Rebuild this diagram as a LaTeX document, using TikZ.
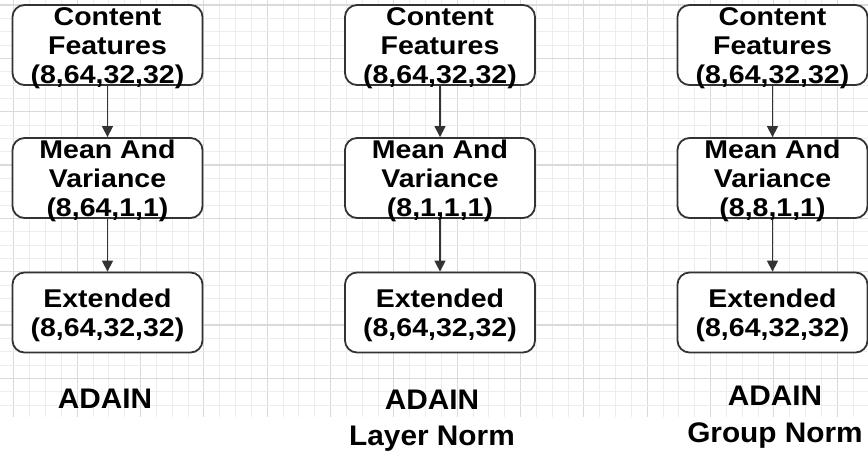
\documentclass[tikz,border=0pt]{standalone}
\usepackage{fontspec}
\usepackage{graphicx}
\setmainfont{Liberation Sans}
\usetikzlibrary{arrows.meta}

\definecolor{edgegray}{HTML}{333333}
\definecolor{gridminor}{HTML}{EDEDED}
\definecolor{gridmajor}{HTML}{DADADA}

% text inside the blocks: bold, slightly condensed vertically
\newcommand{\blocktext}[1]{\scalebox{1}[0.9]{\fontsize{28.5}{32.2}\selectfont\bfseries
  \begin{tabular}{@{}c@{}}#1\end{tabular}}}
% captions under each column
\newcommand{\captiontext}[1]{\scalebox{1}[0.95]{\fontsize{29.8}{38}\selectfont\bfseries
  \begin{tabular}{@{}c@{}}#1\end{tabular}}}

\tikzset{
  block/.style={draw=edgegray, line width=1.8pt, rounded corners=12pt, fill=white,
    minimum width=190pt, minimum height=80pt, inner sep=0pt},
  blocklabel/.style={inner sep=0pt, text=black},
  flow/.style={draw=edgegray, line width=1.4pt, -{Triangle[length=11pt,width=11pt]}},
  caption/.style={inner sep=0pt, text=black},
}

\begin{document}
\begin{tikzpicture}[x=1pt, y=-1pt]
  \useasboundingbox (0,0) rectangle (868,457);
  \fill[white] (0,0) rectangle (868,457);

  % background grid
  \foreach \i in {0,...,55} {
    \pgfmathsetmacro{\gx}{-2.03+15.833*\i}
    \pgfmathtruncatemacro{\m}{mod(\i,4)}
    \ifnum\m=1
      \draw[gridmajor, line width=1.1pt] (\gx,0) -- (\gx,417);
    \else
      \draw[gridminor, line width=0.8pt] (\gx,0) -- (\gx,417);
    \fi
  }
  \foreach \j in {1,...,31} {
    \pgfmathsetmacro{\gy}{-8.33+13.333*\j}
    \pgfmathtruncatemacro{\m}{mod(\j,4)}
    \ifnum\m=1
      \draw[gridmajor, line width=1.1pt] (0,\gy) -- (868,\gy);
    \else
      \draw[gridminor, line width=0.8pt] (0,\gy) -- (868,\gy);
    \fi
  }

  % column 1: ADAIN
  \node[block] (a1) at (107.5,45) {};
  \node[block] (a2) at (107.5,178) {};
  \node[block] (a3) at (107.5,312.5) {};
  \node[blocklabel] (a1t) at (107.5,48.4) {\blocktext{Content\\Features\\(8,64,32,32)}};
  \node[blocklabel] (a2t) at (107.5,181.4) {\blocktext{Mean And\\Variance\\(8,64,1,1)}};
  \node[blocklabel] (a3t) at (107.5,315.9) {\blocktext{Extended\\(8,64,32,32)}};
  \draw[flow] (a1.south) -- (a2.north);
  \draw[flow] (a2.south) -- (a3.north);
  \node[caption] (ca) at (105,401.7) {\captiontext{ADAIN}};

  % column 2: ADAIN with layer norm
  \node[block] (b1) at (440,45) {};
  \node[block] (b2) at (440,178) {};
  \node[block] (b3) at (440,312.5) {};
  \node[blocklabel] (b1t) at (440,48.4) {\blocktext{Content\\Features\\(8,64,32,32)}};
  \node[blocklabel] (b2t) at (440,181.4) {\blocktext{Mean And\\Variance\\(8,1,1,1)}};
  \node[blocklabel] (b3t) at (440,315.9) {\blocktext{Extended\\(8,64,32,32)}};
  \draw[flow] (b1.south) -- (b2.north);
  \draw[flow] (b2.south) -- (b3.north);
  \node[caption] (cb) at (432,420.6) {\captiontext{ADAIN\\Layer Norm}};

  % column 3: ADAIN with group norm
  \node[block] (c1) at (772.5,45) {};
  \node[block] (c2) at (772.5,178) {};
  \node[block] (c3) at (772.5,312.5) {};
  \node[blocklabel] (c1t) at (772.5,48.4) {\blocktext{Content\\Features\\(8,64,32,32)}};
  \node[blocklabel] (c2t) at (772.5,181.4) {\blocktext{Mean And\\Variance\\(8,8,1,1)}};
  \node[blocklabel] (c3t) at (772.5,315.9) {\blocktext{Extended\\(8,64,32,32)}};
  \draw[flow] (c1.south) -- (c2.north);
  \draw[flow] (c2.south) -- (c3.north);
  \node[caption] (cc) at (775,416.8) {\captiontext{ADAIN\\Group Norm}};
\end{tikzpicture}
\end{document}
